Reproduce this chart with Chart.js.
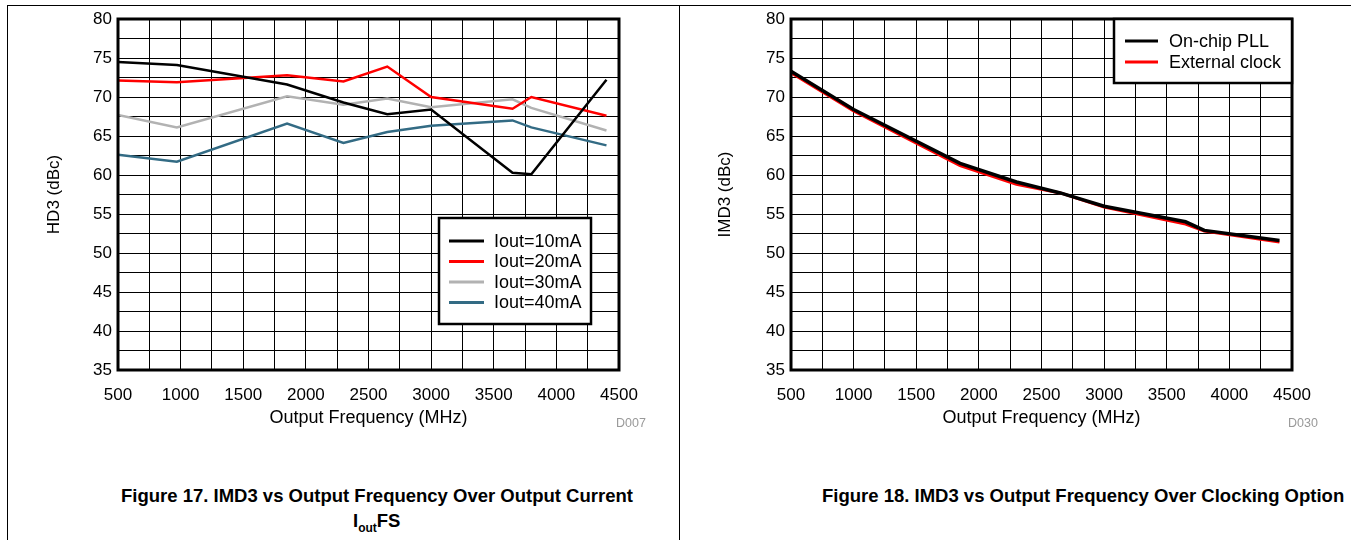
<!DOCTYPE html>
<html>
<head>
<meta charset="utf-8">
<script src="https://cdn.jsdelivr.net/npm/chart.js@4.4.1/dist/chart.umd.min.js"></script>
<style>
  body { margin: 0; width: 1351px; height: 540px; background: #fff; position: relative; overflow: hidden;
         font-family: "Liberation Sans", Arial, sans-serif; }
  .rule-h { position: absolute; left: 7px; top: 5px; width: 1344px; border-top: 1px solid #000; }
  .rule-v { position: absolute; top: 5px; height: 535px; border-left: 1px solid #000; }
  canvas { position: absolute; top: 0; }
  .caption { position: absolute; font-weight: bold; font-size: 18.5px; white-space: nowrap; color: #000; }
  .caption sub { font-size: 12px; }
</style>
</head>
<body>
<div class="rule-h"></div>
<div class="rule-v" style="left:7px"></div>
<div class="rule-v" style="left:679px"></div>

<canvas id="chartCurrent" width="679" height="440" style="left:0"></canvas>
<canvas id="chartClock" width="671" height="440" style="left:680px"></canvas>

<div class="caption" style="left:121px; top:485px">Figure 17. IMD3 vs Output Frequency Over Output Current</div>
<div class="caption" style="left:353px; top:510px">I<sub>out</sub>FS</div>
<div class="caption" style="left:822px; top:485px">Figure 18. IMD3 vs Output Frequency Over Clocking Option</div>

<script>
// ===== DATA =====
const freqTicks = [500, 1000, 1500, 2000, 2500, 3000, 3500, 4000, 4500];
const dbTicks = [35, 40, 45, 50, 55, 60, 65, 70, 75, 80];

// output current sweep (Figure 17)
const freqCurrent = [500, 970, 1850, 2300, 2650, 3000, 3650, 3800, 4400];
const iout10 = [74.5, 74.1, 71.6, 69.3, 67.8, 68.4, 60.3, 60.1, 72.2];
const iout20 = [72.1, 71.9, 72.8, 72.0, 73.9, 70.0, 68.5, 70.0, 67.6];
const iout30 = [67.7, 66.1, 70.1, 69.0, 69.8, 68.7, 69.7, 68.6, 65.7];
const iout40 = [62.6, 61.7, 66.6, 64.1, 65.5, 66.3, 67.0, 66.1, 63.8];
const currentLabels = ["Iout=10mA", "Iout=20mA", "Iout=30mA", "Iout=40mA"];

// clocking option (Figure 18)
const freqClock = [500, 1000, 1850, 2300, 2650, 3000, 3650, 3800, 4400];
const onChipPll = [73.3, 68.4, 61.5, 59.1, 57.7, 56.0, 54.0, 52.9, 51.6];
const extClock = [73.1, 68.2, 61.2, 58.8, 57.7, 55.9, 53.7, 52.8, 51.4];
const clockLabels = ["On-chip PLL", "External clock"];

const FONT = "'Liberation Sans', Arial, sans-serif";

const toPoints = (xs, ys) => xs.map((x, i) => ({ x: x, y: ys[i] }));

// ===== PLUGINS =====
// heavy box round the plot area
const plotFrame = {
    id: "plotFrame",
    afterDatasetsDraw(chart) {
        const { ctx, chartArea: a } = chart;
        ctx.save();
        ctx.strokeStyle = "#000";
        ctx.lineWidth = 3;
        ctx.strokeRect(a.left, a.top, a.right - a.left, a.bottom - a.top);
        ctx.restore();
    }
};

// framed legend sitting inside the plot
const boxLegend = {
    id: "boxLegend",
    afterDraw(chart, args, opts) {
        const { ctx } = chart;
        ctx.save();
        ctx.fillStyle = "#fff";
        ctx.fillRect(opts.left, opts.top, opts.right - opts.left, opts.bottom - opts.top);
        ctx.strokeStyle = "#000";
        ctx.lineWidth = 2.5;
        ctx.strokeRect(opts.left, opts.top, opts.right - opts.left, opts.bottom - opts.top);
        ctx.font = "18px " + FONT;
        ctx.textBaseline = "middle";
        chart.data.datasets.forEach((ds, i) => {
            const y = opts.rows[i];
            ctx.strokeStyle = ds.borderColor;
            ctx.lineWidth = 3;
            ctx.beginPath();
            ctx.moveTo(opts.lineX[0], y);
            ctx.lineTo(opts.lineX[1], y);
            ctx.stroke();
            ctx.fillStyle = "#000";
            ctx.fillText(ds.label, opts.textX, y + 1);
        });
        ctx.restore();
    }
};

// small figure id under the plot
const figureTag = {
    id: "figureTag",
    afterDraw(chart, args, opts) {
        const { ctx } = chart;
        ctx.save();
        ctx.font = "12.5px " + FONT;
        ctx.fillStyle = "#999";
        ctx.textAlign = "center";
        ctx.textBaseline = "middle";
        ctx.fillText(opts.text, opts.x, opts.y);
        ctx.restore();
    }
};

// ===== SHARED OPTIONS =====
function makeOptions(yTitle, axisWidth, titlePad, rightPad) {
    return {
        responsive: false,
        animation: false,
        layout: { padding: { left: 0, top: 19, right: rightPad, bottom: 0 } },
        elements: { point: { radius: 0 }, line: { tension: 0 } },
        plugins: { legend: { display: false }, tooltip: { enabled: false } },
        scales: {
            x: {
                type: "linear", min: 500, max: 4500,
                afterFit: s => { s.height = 70; },
                grid: { color: "#000", lineWidth: 1, drawTicks: false },
                border: { display: false },
                ticks: {
                    stepSize: 250, padding: 15, color: "#000",
                    font: { size: 17, family: FONT },
                    maxRotation: 0, autoSkip: false,
                    callback: v => freqTicks.includes(v) ? String(v) : ""
                },
                title: {
                    display: true, text: "Output Frequency (MHz)", color: "#000",
                    font: { size: 18, family: FONT }, padding: { top: 0, bottom: 11 }
                }
            },
            y: {
                min: 35, max: 80,
                afterFit: s => { s.width = axisWidth; },
                grid: { color: "#000", lineWidth: 1, drawTicks: false },
                border: { display: false },
                ticks: {
                    stepSize: 2.5, padding: 6, color: "#000",
                    font: { size: 17, family: FONT }, autoSkip: false,
                    callback: v => dbTicks.includes(v) ? String(v) : ""
                },
                title: {
                    display: true, text: yTitle, color: "#000",
                    font: { size: 17, family: FONT }, padding: { top: titlePad, bottom: 0 }
                }
            }
        }
    };
}

// ===== FIGURE 17 =====
const optsCurrent = makeOptions("HD3 (dBc)", 118, 44, 60);
optsCurrent.plugins.boxLegend = {
    left: 439, top: 218, right: 591, bottom: 324,
    rows: [241, 261.5, 282, 302.5], lineX: [449, 484], textX: 494
};
optsCurrent.plugins.figureTag = { text: "D007", x: 631, y: 424 };

new Chart(document.getElementById("chartCurrent"), {
    type: "line",
    data: {
        datasets: [
            { label: currentLabels[0], data: toPoints(freqCurrent, iout10), borderColor: "#000000", borderWidth: 2.5 },
            { label: currentLabels[1], data: toPoints(freqCurrent, iout20), borderColor: "#ff0000", borderWidth: 2.5 },
            { label: currentLabels[2], data: toPoints(freqCurrent, iout30), borderColor: "#b2b2b2", borderWidth: 2.5 },
            { label: currentLabels[3], data: toPoints(freqCurrent, iout40), borderColor: "#336b84", borderWidth: 2.5 }
        ]
    },
    options: optsCurrent,
    plugins: [plotFrame, boxLegend, figureTag]
});

// ===== FIGURE 18 =====
const optsClock = makeOptions("IMD3 (dBc)", 111, 35, 59);
optsClock.plugins.boxLegend = {
    left: 434, top: 19, right: 612, bottom: 83,
    rows: [41, 62], lineX: [445, 478], textX: 489
};
optsClock.plugins.figureTag = { text: "D030", x: 623, y: 424 };

new Chart(document.getElementById("chartClock"), {
    type: "line",
    data: {
        datasets: [
            { label: clockLabels[0], data: toPoints(freqClock, onChipPll), borderColor: "#000000", borderWidth: 3.5 },
            { label: clockLabels[1], data: toPoints(freqClock, extClock), borderColor: "#ff0000", borderWidth: 3 }
        ]
    },
    options: optsClock,
    plugins: [plotFrame, boxLegend, figureTag]
});
</script>
</body>
</html>
